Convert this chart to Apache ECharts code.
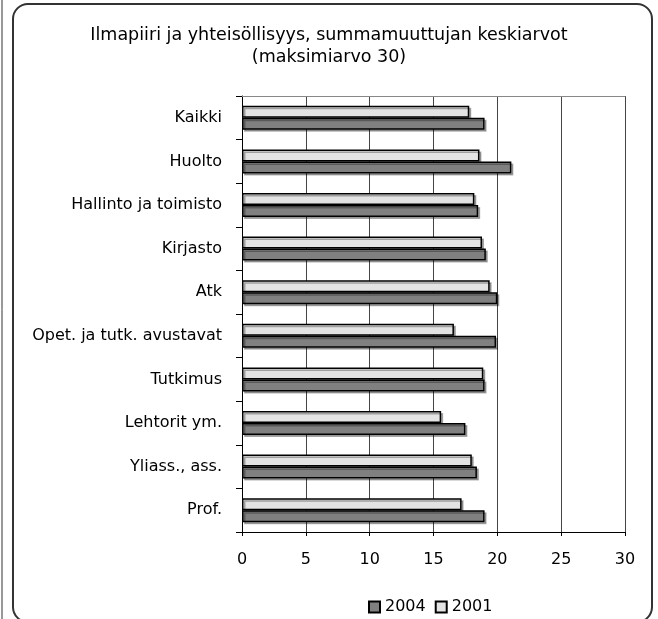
<!DOCTYPE html>
<html>
<head>
<meta charset="utf-8">
<script src="https://cdn.jsdelivr.net/npm/echarts@6/dist/echarts.min.js"></script>
<style>
  html, body { margin: 0; padding: 0; background: #fff; }
  #chart { width: 658px; height: 619px; }
</style>
</head>
<body>
<div id="chart"></div>
<script>
// Staff groups, top to bottom
const categories = [
  'Kaikki', 'Huolto', 'Hallinto ja toimisto', 'Kirjasto', 'Atk',
  'Opet. ja tutk. avustavat', 'Tutkimus', 'Lehtorit ym.', 'Yliass., ass.', 'Prof.'
];
// Mean of the summed variable (max 30)
const values2004 = [19.0, 21.1, 18.5, 19.1, 20.0, 19.9, 19.0, 17.5, 18.4, 19.0];
const values2001 = [17.8, 18.6, 18.2, 18.8, 19.4, 16.6, 18.9, 15.6, 18.0, 17.2];
const xTicks = [0, 5, 10, 15, 20, 25, 30];

const FONT = '"DejaVu Sans", Verdana, sans-serif';
const chart = echarts.init(document.getElementById('chart'), null, { renderer: 'canvas' });

const barShadow = {
  shadowColor: 'rgba(0,0,0,0.3)',
  shadowOffsetX: 2,
  shadowOffsetY: 2,
  shadowBlur: 0
};

chart.setOption({
  animation: false,
  backgroundColor: '#fff',
  title: {
    text: 'Ilmapiiri ja yhteisöllisyys, summamuuttujan keskiarvot\n(maksimiarvo 30)',
    left: 'center',
    top: 19,
    textStyle: { fontFamily: FONT, fontSize: 17.5, fontWeight: 'normal', color: '#000', lineHeight: 22 }
  },
  legend: {
    data: ['2004', '2001'],
    left: 363,
    top: 594,
    itemWidth: 11,
    itemHeight: 11,
    itemGap: 9,
    icon: 'rect',
    textStyle: { fontFamily: FONT, fontSize: 16, color: '#000' }
  },
  grid: { left: 242, right: 33, top: 96, bottom: 87, containLabel: false },
  xAxis: [{
    type: 'value',
    min: xTicks[0],
    max: xTicks[xTicks.length - 1],
    interval: 5,
    position: 'bottom',
    axisLine: { show: true, lineStyle: { color: '#000', width: 1 } },
    axisTick: { show: true, length: 4, lineStyle: { color: '#000' } },
    axisLabel: { fontFamily: FONT, fontSize: 16, color: '#000', margin: 20 },
    splitLine: { show: true, lineStyle: { color: '#444', width: 1 } }
  }, {
    // plot-area top border
    type: 'value',
    min: xTicks[0],
    max: xTicks[xTicks.length - 1],
    position: 'top',
    axisLine: { show: true, lineStyle: { color: '#888', width: 1 } },
    axisTick: { show: false },
    axisLabel: { show: false },
    splitLine: { show: false }
  }],
  yAxis: {
    type: 'category',
    data: categories,
    inverse: true,
    axisLine: { show: true, lineStyle: { color: '#000', width: 1 } },
    axisTick: { show: true, length: 6, lineStyle: { color: '#000' } },
    axisLabel: { fontFamily: FONT, fontSize: 16, color: '#000', margin: 20 }
  },
  series: [{
    name: '2001',
    type: 'bar',
    data: values2001,
    barWidth: 12,
    barGap: '0%',
    itemStyle: Object.assign({ color: '#e3e3e3', borderColor: '#000', borderWidth: 1.5 }, barShadow)
  }, {
    name: '2004',
    type: 'bar',
    data: values2004,
    barWidth: 12,
    barGap: '0%',
    itemStyle: Object.assign({ color: '#808080', borderColor: '#000', borderWidth: 1.5 }, barShadow)
  }],
  graphic: [{
    type: 'rect',
    shape: { x: 13, y: 4, width: 639, height: 618, r: 15 },
    style: { fill: 'none', stroke: '#333', lineWidth: 2 },
    z: 100
  }, {
    type: 'line',
    shape: { x1: 2, y1: 0, x2: 2, y2: 619 },
    style: { stroke: '#333', lineWidth: 1 },
    z: 100
  }]
});
</script>
</body>
</html>
